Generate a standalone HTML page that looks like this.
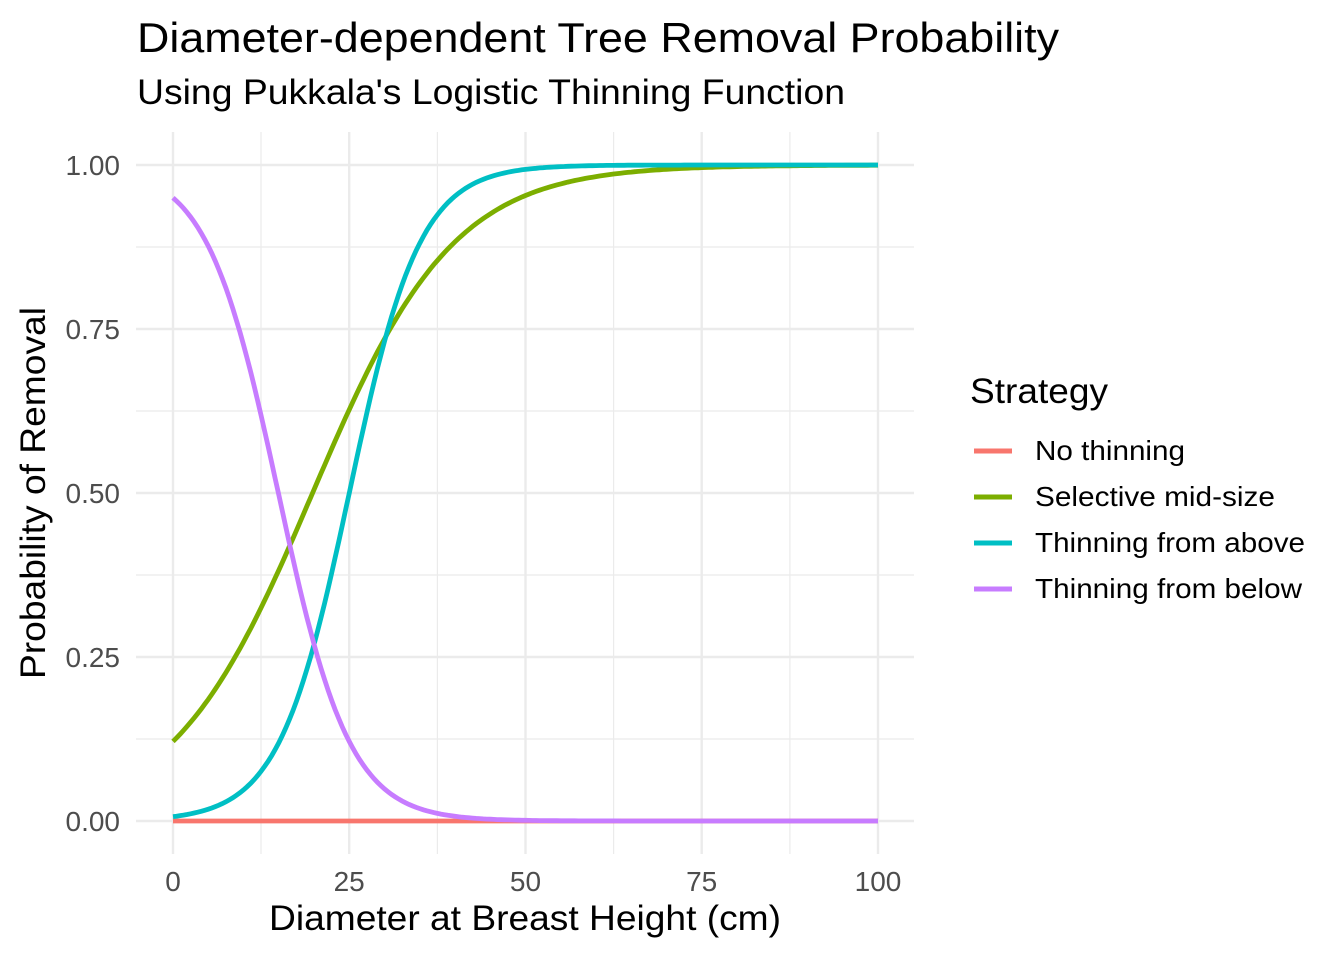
<!DOCTYPE html>
<html><head><meta charset="utf-8"><style>body{margin:0;background:#fff}svg{display:block}text{font-family:"Liberation Sans",Arial,sans-serif}</style></head>
<body>
<svg id="s" width="1344" height="960" xmlns="http://www.w3.org/2000/svg">
<rect width="1344" height="960" fill="#fff"/>
<g stroke="#ebebeb" stroke-width="1.2">
<line x1="136" x2="914" y1="247" y2="247"/><line x1="136" x2="914" y1="411" y2="411"/><line x1="136" x2="914" y1="575" y2="575"/><line x1="136" x2="914" y1="739" y2="739"/>
<line y1="132" y2="854" x1="261" x2="261"/><line y1="132" y2="854" x1="437.4" x2="437.4"/><line y1="132" y2="854" x1="613.6" x2="613.6"/><line y1="132" y2="854" x1="789.9" x2="789.9"/>
</g>
<g stroke="#ebebeb" stroke-width="2.4">
<line x1="136" x2="914" y1="165" y2="165"/><line x1="136" x2="914" y1="329" y2="329"/><line x1="136" x2="914" y1="493" y2="493"/><line x1="136" x2="914" y1="657" y2="657"/><line x1="136" x2="914" y1="821" y2="821"/>
<line y1="132" y2="854" x1="173" x2="173"/><line y1="132" y2="854" x1="349.2" x2="349.2"/><line y1="132" y2="854" x1="525.5" x2="525.5"/><line y1="132" y2="854" x1="701.7" x2="701.7"/><line y1="132" y2="854" x1="878" x2="878"/>
</g>
<g id="curves" fill="none" stroke-width="4.8"></g>
<g font-size="28" fill="#4d4d4d" text-anchor="end">
<text x="120" y="175">1.00</text><text x="120" y="339">0.75</text><text x="120" y="503">0.50</text><text x="120" y="667">0.25</text><text x="120" y="831">0.00</text>
</g>
<g font-size="28" fill="#4d4d4d" text-anchor="middle">
<text x="173" y="891">0</text><text x="349.2" y="891">25</text><text x="525.5" y="891">50</text><text x="701.7" y="891">75</text><text x="878" y="891">100</text>
</g>
<text x="269" y="930" font-size="35" textLength="512" lengthAdjust="spacingAndGlyphs">Diameter at Breast Height (cm)</text>
<text transform="translate(45,679) rotate(-90)" font-size="35" textLength="372" lengthAdjust="spacingAndGlyphs">Probability of Removal</text>
<text x="137" y="52" font-size="42" textLength="922" lengthAdjust="spacingAndGlyphs">Diameter-dependent Tree Removal Probability</text>
<text x="137" y="104" font-size="35" textLength="708" lengthAdjust="spacingAndGlyphs">Using Pukkala's Logistic Thinning Function</text>
<text x="970" y="403" font-size="35" textLength="138" lengthAdjust="spacingAndGlyphs">Strategy</text>
<g stroke-width="5">
<line x1="974" x2="1012" y1="451" y2="451" stroke="#F8766D"/>
<line x1="974" x2="1012" y1="497" y2="497" stroke="#7CAE00"/>
<line x1="974" x2="1012" y1="543" y2="543" stroke="#00BFC4"/>
<line x1="974" x2="1012" y1="589" y2="589" stroke="#C77CFF"/>
</g>
<g font-size="28" fill="#000">
<text x="1035" y="460" textLength="150" lengthAdjust="spacingAndGlyphs">No thinning</text>
<text x="1035" y="506" textLength="240" lengthAdjust="spacingAndGlyphs">Selective mid-size</text>
<text x="1035" y="552" textLength="270" lengthAdjust="spacingAndGlyphs">Thinning from above</text>
<text x="1035" y="598" textLength="267" lengthAdjust="spacingAndGlyphs">Thinning from below</text>
</g>
</svg>
<script>
(function(){
var g=document.getElementById('curves');
function X(d){return 173+d*7.05}function Y(p){return 821-p*656}
function lg(a,b){return function(d){return 1/(1+Math.exp(-(a+b*d)))}}
var s=[[function(){return 0},'#F8766D'],[lg(-1.98,0.1),'#7CAE00'],[lg(-5,0.2),'#00BFC4'],[lg(2.944,-0.197),'#C77CFF']];
s.forEach(function(c){var pts=[];for(var d=0;d<=100;d+=0.5)pts.push(X(d).toFixed(1)+','+Y(c[0](d)).toFixed(1));
var p=document.createElementNS('http://www.w3.org/2000/svg','polyline');p.setAttribute('points',pts.join(' '));p.setAttribute('stroke',c[1]);g.appendChild(p);});
})();
</script>
</body></html>
